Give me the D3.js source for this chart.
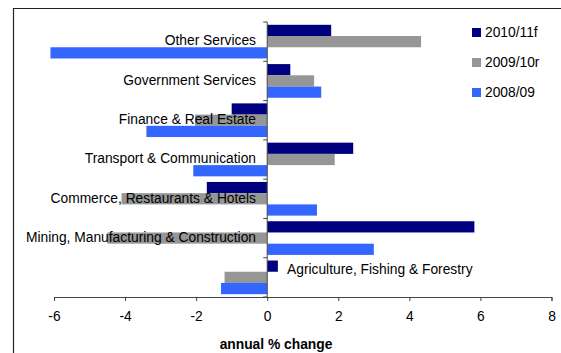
<!DOCTYPE html>
<html>
<head>
<meta charset="utf-8">
<script src="https://cdn.jsdelivr.net/npm/d3@7"></script>
<style>
  html, body { margin: 0; padding: 0; background: #fff; }
  svg { display: block; font-family: Arial, "Liberation Sans", sans-serif; }
</style>
</head>
<body>
<svg id="chart" width="561" height="353"></svg>
<script>
// Sectors, top to bottom
const sectors = [
  "Other Services",
  "Government Services",
  "Finance & Real Estate",
  "Transport & Communication",
  "Commerce, Restaurants & Hotels",
  "Mining, Manufacturing & Construction",
  "Agriculture, Fishing & Forestry"
];

const seriesNames = ["2010/11f", "2009/10r", "2008/09"];
const seriesColors = ["#000080", "#969696", "#3366FF"];

// annual % change per sector
const values2010 = [1.8, 0.65, -1.0, 2.42, -1.7, 5.83, 0.3];
const values2009 = [4.33, 1.32, -2.03, 1.9, -4.1, -4.5, -1.2];
const values2008 = [-6.1, 1.52, -3.4, -2.08, 1.4, 3.0, -1.3];

const xTicks = [-6, -4, -2, 0, 2, 4, 6, 8];
const xTitle = "annual % change";

const seriesValues = [values2010, values2009, values2008];
const fontSize = 13.8;

const svg = d3.select("#chart");

// outer frame (left and top edges)
svg.append("path")
  .attr("d", "M13.5,353 V8.5 H561")
  .attr("fill", "none")
  .attr("stroke", "#222")
  .attr("stroke-width", 1.2);

const x = d3.scaleLinear().domain([-6, 8]).range([54, 551.5]);
const y = d3.scaleBand().domain(sectors).range([22, 297]).paddingInner(0).paddingOuter(0);
const ySub = d3.scaleBand().domain(seriesNames).range([0, y.bandwidth()]).paddingInner(0).paddingOuter(0.25);

// bars
const groups = svg.append("g").selectAll("g")
  .data(sectors)
  .join("g")
  .attr("transform", d => `translate(0,${y(d)})`);

groups.selectAll("rect")
  .data((d, i) => seriesNames.map((s, j) => ({ s, j, v: seriesValues[j][i] })))
  .join("rect")
  .attr("x", d => x(Math.min(0, d.v)))
  .attr("width", d => Math.abs(x(d.v) - x(0)))
  .attr("y", d => ySub(d.s))
  .attr("height", ySub.bandwidth())
  .attr("fill", d => seriesColors[d.j]);

// x axis
const xAxis = svg.append("g")
  .attr("transform", "translate(0,297)")
  .call(d3.axisBottom(x).tickValues(xTicks).tickSize(4).tickPadding(10).tickFormat(d3.format("d")));
xAxis.select(".domain").attr("stroke", "#444").attr("stroke-width", 1);
xAxis.selectAll(".tick line").attr("stroke", "#444");
xAxis.selectAll(".tick text")
  .attr("font-size", fontSize)
  .attr("font-family", "Arial, 'Liberation Sans', sans-serif")
  .attr("fill", "#000")
  .text(d => d < 0 ? "-" + Math.abs(d) : d);

// y axis at zero with ticks on band boundaries
const yAxisG = svg.append("g").attr("transform", `translate(${x(0)},0)`);
yAxisG.append("line")
  .attr("y1", 22).attr("y2", 297)
  .attr("stroke", "#444");
yAxisG.selectAll("line.tk")
  .data(sectors.map(s => y(s)).concat([297]))
  .join("line")
  .attr("class", "tk")
  .attr("x1", -4).attr("x2", 0)
  .attr("y1", d => d).attr("y2", d => d)
  .attr("stroke", "#444");

// category labels
svg.append("g").selectAll("text")
  .data(sectors)
  .join("text")
  .attr("x", (d, i) => i === sectors.length - 1 ? 287 : 256)
  .attr("y", (d, i) => i === sectors.length - 1 ? y(d) + 11 : y(d) + y.bandwidth() / 2 - 1)
  .attr("dy", "0.35em")
  .attr("text-anchor", (d, i) => i === sectors.length - 1 ? "start" : "end")
  .attr("font-size", fontSize)
  .attr("fill", "#000")
  .text(d => d);

// axis title
svg.append("text")
  .attr("x", 276)
  .attr("y", 344)
  .attr("dy", "0.35em")
  .attr("text-anchor", "middle")
  .attr("font-size", fontSize)
  .attr("font-weight", "bold")
  .text(xTitle);

// legend
const legend = svg.append("g").selectAll("g")
  .data(seriesNames)
  .join("g")
  .attr("transform", (d, i) => `translate(472,${28 + i * 30})`);
legend.append("rect")
  .attr("width", 9).attr("height", 9)
  .attr("fill", (d, i) => seriesColors[i]);
legend.append("text")
  .attr("x", 13)
  .attr("y", 4.5)
  .attr("dy", "0.35em")
  .attr("font-size", fontSize)
  .text(d => d);
</script>
</body>
</html>
